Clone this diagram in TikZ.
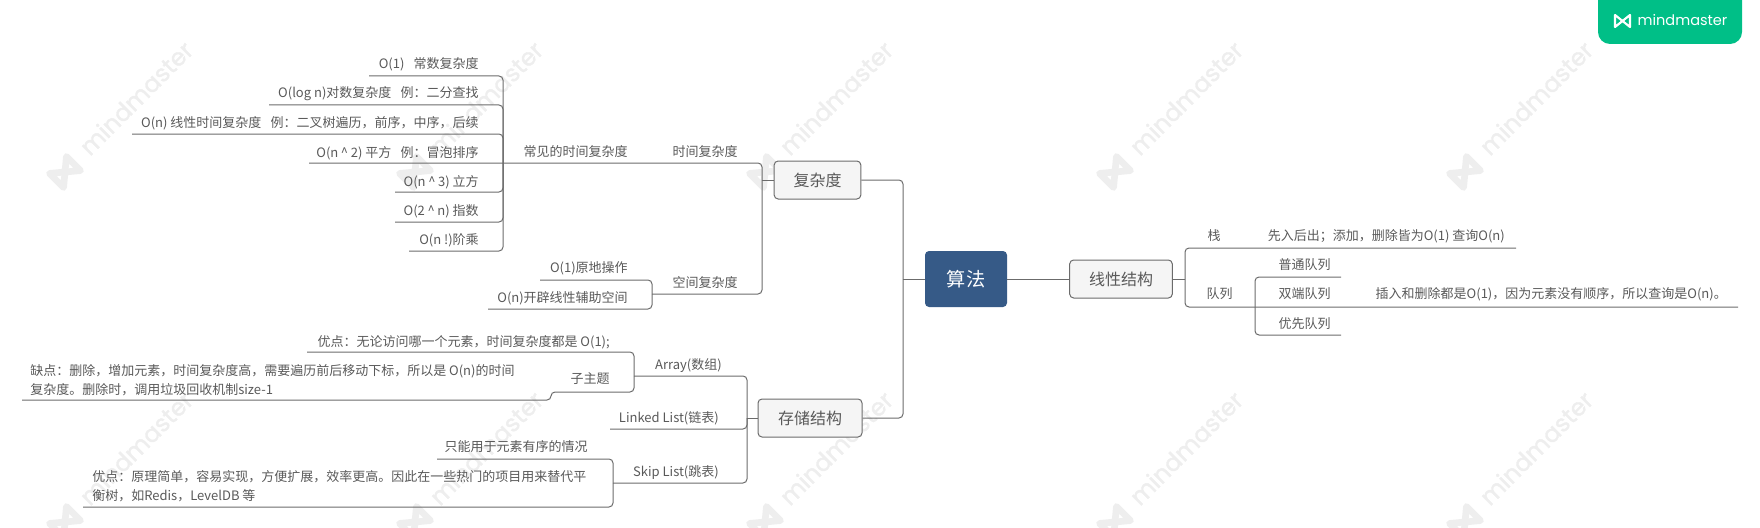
\documentclass[tikz,border=0pt]{standalone}
\usepackage{fontspec}
\setmainfont{Noto Sans CJK SC}
\newfontfamily\logofont{Poppins}
\newfontfamily\markfont[FakeBold=1.6]{Poppins}
\usepackage{xcolor}
\usetikzlibrary{positioning}
\definecolor{accent}{HTML}{365A87}
\definecolor{soft}{HTML}{F5F5F5}
\definecolor{inkline}{HTML}{6B6B6B}
\definecolor{inktext}{HTML}{595959}
\definecolor{markgray}{HTML}{EEEEEE}
\definecolor{logogreen}{HTML}{00BF87}
\newcommand{\vgap}{\hspace{7pt}}
\newcommand{\vcaret}{\kern2pt\textasciicircum\kern2pt}
\tikzset{
  vroot/.style={fill=accent,text=white,rounded corners=3pt,font=\fontsize{14.4}{16}\selectfont,minimum width=61.5pt,minimum height=42pt,inner sep=0pt},
  vtopic/.style={draw=inkline,line width=0.75pt,fill=soft,text=inktext,rounded corners=3pt,font=\fontsize{12}{14}\selectfont,minimum height=28.5pt,inner sep=0pt},
  vlabel/.style={anchor=east,text=inktext,inner sep=0pt,text height=8pt,text depth=2.5pt,yshift=-0.75pt},
  vnote/.style={anchor=west,text=inktext,inner sep=0pt,align=left,font=\fontsize{9.75}{14.25}\selectfont},
  vlink/.style={line width=0.75pt,draw=inkline,rounded corners=3pt},
  wmark/.pic={
    \draw[markgray,line width=5pt,line join=round,shift={(-71,74)},rotate=45] (-12,-10) -- (-12,10) -- (12,-10) -- (12,10) -- cycle;
    \node[rotate=45,text=markgray,font=\markfont\fontsize{18}{20}\selectfont,inner sep=0pt] (label) at (0,0) {mindmaster};
  }
}
\begin{document}
\begin{tikzpicture}[x=0.75pt,y=-0.75pt,font=\fontsize{9.75}{12}\selectfont]
  \useasboundingbox (0,0) rectangle (1760,528);
  \clip (0,0) rectangle (1760,528);
  % watermark
  \pic (w1) at (136,98) {wmark};
  \pic (w2) at (486,98) {wmark};
  \pic (w3) at (836,98) {wmark};
  \pic (w4) at (1186,98) {wmark};
  \pic (w5) at (1536,98) {wmark};
  \pic (w6) at (136,448) {wmark};
  \pic (w7) at (486,448) {wmark};
  \pic (w8) at (836,448) {wmark};
  \pic (w9) at (1186,448) {wmark};
  \pic (w10) at (1536,448) {wmark};
  % logo
  \fill[logogreen,rounded corners=9pt] (1598,-20) rectangle (1742,44);
  \draw[white,line width=1.6pt,line join=round] (1615,15) -- (1615,27) -- (1630,15) -- (1630,27) -- cycle;
  \node[text=white,font=\logofont\fontsize{10.9}{13}\selectfont,inner sep=0pt] (logo) at (1682.5,20) {mindmaster};
  % main boxes
  \node[vroot] (root) at (966,279) {算法};
  \node[vtopic,minimum width=65pt] (t1) at (817.5,180) {复杂度};
  \node[vtopic,minimum width=78pt] (t2) at (810,418) {存储结构};
  \node[vtopic,minimum width=77pt] (t3) at (1121,279) {线性结构};
  % time complexity
  \node[vlabel] (n1) at (479,64) {O(1)\vgap 常数复杂度};
  \node[vlabel] (n2) at (479,93) {O(log n)对数复杂度\vgap 例：二分查找};
  \node[vlabel] (n3) at (479,123) {O(n) 线性时间复杂度\vgap 例：二叉树遍历，前序，中序，后续};
  \node[vlabel] (n4) at (479,153) {O(n\vcaret 2) 平方\vgap 例：冒泡排序};
  \node[vlabel] (n5) at (479,182) {O(n\vcaret 3) 立方};
  \node[vlabel] (n6) at (479,211) {O(2\vcaret n) 指数};
  \node[vlabel] (n7) at (479,240) {O(n !)阶乘};
  \node[vlabel] (k1) at (628,152) {常见的时间复杂度};
  \node[vlabel] (k2) at (738,152) {时间复杂度};
  \node[vlabel] (k3) at (738,283) {空间复杂度};
  \node[vlabel] (k4) at (628,268) {O(1)原地操作};
  \node[vlabel] (k5) at (628,298) {O(n)开辟线性辅助空间};
  % storage
  \node[vlabel] (a1) at (722,365) {Array(数组)};
  \node[vlabel] (a2) at (719,418) {Linked List(链表)};
  \node[vlabel] (a3) at (719,472) {Skip List(跳表)};
  \node[vlabel] (a4) at (610,342) {优点：无论访问哪一个元素，时间复杂度都是 O(1);};
  \node[vlabel] (a5) at (610,379) {子主题};
  \node[vlabel] (a6) at (588,447) {只能用于元素有序的情况};
  \node[vnote] (a7) at (30,380.5) {缺点：删除，增加元素，时间复杂度高，需要遍历前后移动下标，所以是 O(n)的时间\\复杂度。删除时，调用垃圾回收机制size-1};
  \node[vnote] (a8) at (92,486) {优点：原理简单，容易实现，方便扩展，效率更高。因此在一些热门的项目用来替代平\\衡树，如Redis，LevelDB 等};
  % linear
  \node[vlabel] (b1) at (1221,236) {栈};
  \node[vlabel] (b2) at (1233,294) {队列};
  \node[vlabel] (b3) at (1505,236) {先入后出；添加，删除皆为O(1) 查询O(n)};
  \node[vlabel] (b4) at (1331,265) {普通队列};
  \node[vlabel] (b5) at (1331,294) {双端队列};
  \node[vlabel] (b6) at (1331,324) {优先队列};
  \node[vlabel] (b7) at (1727,294) {插入和删除都是O(1)，因为元素没有顺序，所以查询是O(n)。};
  % joints and free line ends
  \coordinate (j1) at (503,163);
  \coordinate (j2) at (762,180);
  \coordinate (j3) at (903,279);
  \coordinate (j4) at (747,418);
  \coordinate (j5) at (1185,279);
  \coordinate (j6) at (1255,307);
  \coordinate (j7) at (652,294);
  \coordinate (j8) at (634,376);
  \coordinate (j9) at (551,392);
  \coordinate (j10) at (613,483);
  \coordinate (u1) at (369,76);
  \coordinate (u2) at (269,105);
  \coordinate (u3) at (132,134);
  \coordinate (u4) at (309,163);
  \coordinate (u5) at (395,192);
  \coordinate (u6) at (395,222);
  \coordinate (u7) at (409,251);
  \coordinate (s1) at (540,280);
  \coordinate (s2) at (488,309);
  \coordinate (p1) at (307,352);
  \coordinate (p2) at (22,400);
  \coordinate (p3) at (610,429);
  \coordinate (p4) at (437,459);
  \coordinate (p5) at (83,507);
  \coordinate (e1) at (1516,248);
  \coordinate (e2) at (1738,307);
  \coordinate (e3) at (1341,277);
  \coordinate (e4) at (1341,335);
  % connectors
  \draw[vlink] (u1) -| (j1);
  \draw[vlink] (u2) -| (j1);
  \draw[vlink] (u3) -| (j1);
  \draw[vlink] (u5) -| (j1);
  \draw[vlink] (u6) -| (j1);
  \draw[vlink] (u7) -| (j1);
  \draw[vlink] (u4) -| (j2);
  \draw[vlink] (t1.west) -- (j2);
  \draw[vlink] (s1) -| (j7);
  \draw[vlink] (s2) -| (j7);
  \draw[vlink] (j7) -| (j2);
  \draw[vlink] (t1.east) -| (j3);
  \draw[vlink] (t2.east) -| (j3);
  \draw[vlink] (root.west) -- (j3);
  \draw[vlink] (j8) -| (j4);
  \draw[vlink] (p3) -| (j4);
  \draw[vlink] (j10) -| (j4);
  \draw[vlink] (t2.west) -- (j4);
  \draw[vlink] (p1) -| (j8);
  \draw[vlink] (p2) -| (j9) -| (j8);
  \draw[vlink] (p4) -| (j10);
  \draw[vlink] (p5) -| (j10);
  \draw[vlink] (root.east) -- (t3.west);
  \draw[vlink] (t3.east) -- (j5);
  \draw[vlink] (e1) -| (j5);
  \draw[vlink] (e2) -| (j5);
  \draw[vlink] (e3) -| (j6);
  \draw[vlink] (e4) -| (j6);
\end{tikzpicture}
\end{document}
